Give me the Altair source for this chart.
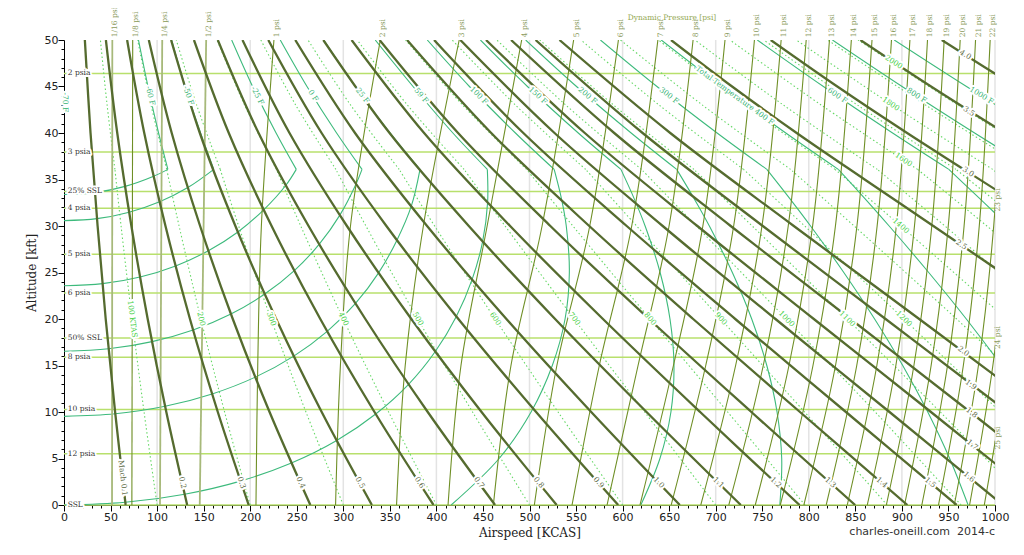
import altair as alt
import pandas as pd

# ---------------- values ----------------
# Mach lines: KCAS at altitudes of ALT_GRID (kft)
ALT_GRID = [0, 10, 20, 30, 40, 50]
MACH_NUMS = [0.1, 0.2, 0.3, 0.4, 0.5, 0.6, 0.7, 0.8, 0.9, 1.0,
             1.1, 1.2, 1.3, 1.4, 1.5, 1.6, 1.7, 1.8, 1.9, 2.0]
MACH_KCAS = [
    [66.2, 54.9, 44.8, 36.1, 28.5, 22.4],
    [132.3, 109.9, 89.9, 72.4, 57.2, 45.0],
    [198.4, 165.2, 135.3, 109.0, 86.2, 67.8],
    [264.6, 220.8, 181.3, 146.2, 115.7, 91.1],
    [330.7, 276.8, 227.9, 184.1, 145.9, 115.0],
    [396.9, 333.5, 275.3, 223.0, 177.0, 139.6],
    [463.0, 390.7, 323.7, 262.7, 209.0, 165.2],
    [529.2, 448.5, 373.1, 303.9, 242.2, 191.7],
    [595.3, 507.1, 423.6, 346.3, 276.7, 219.4],
    [661.5, 566.3, 475.2, 390.0, 312.6, 248.4],
    [727.0, 625.7, 527.5, 434.8, 349.7, 278.5],
    [790.1, 683.3, 578.9, 479.2, 386.8, 308.9],
    [849.8, 738.3, 628.4, 522.4, 423.3, 339.0],
    [905.9, 790.5, 675.8, 564.2, 458.9, 368.5],
    [958.8, 839.9, 721.0, 604.4, 493.4, 397.5],
    [1008.5, 886.7, 764.2, 643.1, 526.9, 425.7],
    [1055.6, 931.2, 805.4, 680.3, 559.4, 453.3],
    [1100.1, 973.4, 844.8, 716.1, 591.0, 480.2],
    [1142.4, 1013.7, 882.5, 750.6, 621.5, 506.5],
    [1182.6, 1052.1, 918.6, 783.9, 651.2, 532.2],
]
MACH_HIGH = [2.5, 3.0, 3.5, 4.0]
MACH_HIGH_ALT = [[20, 25, 30, 35, 40, 45, 50], [30, 36.09, 40, 45, 50],
                 [36.09, 40, 45, 50], [40, 45, 50]]
MACH_HIGH_KCAS = [[1079.6, 1007.1, 933.8, 860.0, 787.0, 717.6, 652.0],
                  [1062.0, 966.5, 905.6, 830.6, 759.1],
                  [1074.3, 1010.5, 931.3, 855.4],
                  [1104.3, 1022.0, 942.8]]

# Dynamic pressure lines [psi]: KCAS at Q_ALT
Q_NAMES = ["1/16", "1/8", "1/4", "1/2"] + [str(i) for i in range(1, 26)]
Q_ALT = [0, 15, 30, 50]
Q_KCAS = [
    [51.6, None, None, 51.9],
    [72.9, None, None, 73.8],
    [103.1, None, None, 105.5],
    [145.8, None, None, 152.7],
    [206.2, 208.1, 212.0, 225.5],
    [291.7, 296.9, 307.7, 339.8],
    [357.2, 366.5, 386.0, 424.5],
    [412.5, 426.4, 454.5, 491.6],
    [461.2, 480.1, 513.5, 547.4],
    [505.2, 529.4, 564.7, 595.5],
    [545.7, 575.0, 609.8, 637.9],
    [583.3, 616.6, 649.9, 675.7],
    [618.7, 654.6, 686.2, 710.0],
    [652.2, 689.3, 719.3, 741.6],
    [684.0, 721.4, 749.7, 770.3],
    [714.1, 751.1, 777.9, 797.2],
    [742.5, 778.7, 804.1, 822.2],
    [769.4, 804.5, 828.6, 845.7],
    [794.7, 828.7, 851.7, 867.9],
    [818.7, 851.5, 873.4, 888.8],
    [841.3, 873.1, 894.0, 908.6],
    [862.8, 893.5, 913.5, 927.5],
    [883.3, 912.9, 932.1, 945.4],
    [902.8, 931.4, 949.8, 962.6],
    [921.4, 949.0, 966.8, 979.1],
    [939.3, 966.0, 983.1, 994.8],
    [956.3, 982.2, 998.6, 1010.0],
    [972.7, 997.7, 1013.6, None],
    [988.5, 1012.7, 1028.1, None],
]
Q_RIGHT_ALT = [32.8, 18.0, 7.2]   # where 23, 24, 25 psi leave the right edge

# True airspeed lines [KTAS]: KCAS at TAS_ALT
TAS_VALUES = list(range(100, 2001, 100))
TAS_ALT = [0, 10, 20, 30, 36.09, 43, 50]
TAS_KCAS = [
    [100.0, 86.0, 73.1, 61.3, 54.7, 46.3, 39.1],
    [200.0, 172.5, 147.0, 123.6, 110.3, 93.5, 79.1],
    [300.0, 259.9, 222.4, 187.6, 167.8, 142.5, 120.6],
    [400.0, 348.7, 299.9, 254.3, 228.1, 194.0, 164.4],
    [500.0, 438.8, 380.0, 324.3, 292.0, 248.9, 211.4],
    [600.0, 530.7, 463.1, 398.1, 360.0, 307.9, 262.1],
    [699.9, 623.7, 548.0, 473.8, 429.7, 368.9, 315.0],
    [795.9, 712.9, 629.4, 546.6, 496.8, 428.3, 366.9],
    [884.2, 795.5, 705.4, 615.1, 560.3, 485.0, 417.0],
    [963.6, 871.3, 775.8, 679.2, 620.2, 539.0, 465.0],
    [1038.4, 941.2, 841.1, 739.2, 676.6, 590.3, 511.1],
    [1106.2, 1005.7, 902.0, 795.6, 729.9, 639.3, 555.3],
    [None, 1065.7, 958.8, 848.7, 780.4, 685.8, 597.7],
    [None, 1121.8, 1012.1, 898.8, 828.2, 730.3, 638.5],
    [None, None, 1062.3, 946.2, 873.6, 772.8, 677.6],
    [None, None, 1109.7, 991.3, 916.8, 813.4, 715.3],
    [None, None, None, 1034.0, 958.1, 852.3, 751.6],
    [None, None, None, 1074.9, 997.5, 889.7, 786.6],
    [None, None, None, None, 1035.3, 925.6, 820.3],
    [None, None, None, None, 1071.6, 960.1, 852.9],
]

# Total temperature curves: troposphere part and stratosphere part
TEMP_NAMES = ["-60 F", "-50 F", "-25 F", "0 F", "25 F", "59 F", "100 F", "150 F",
              "200 F", "300 F", "400 F", "600 F", "800 F", "1000 F"]
TEMP_TROPO_ALT = [
    [33.38, 33.59, 34.26, 35.35, 36.09],
    [30.58, 30.79, 31.48, 32.60, 34.13, 36.09],
    [23.57, 23.80, 24.52, 25.71, 27.34, 29.36, 31.74, 34.38, 36.09],
    [16.54, 16.80, 17.57, 18.82, 20.54, 22.68, 25.20, 28.05, 31.17, 34.52, 36.09],
    [9.53, 9.81, 10.61, 11.94, 13.75, 16.01, 18.67, 21.67, 24.96, 28.48, 32.19, 36.09],
    [0.0, 0.29, 1.16, 2.57, 4.51, 6.93, 9.78, 12.98, 16.51, 20.28, 24.24, 28.34, 32.52, 36.09],
    [0, 5, 10, 15, 20, 25, 30, 33, 36.09],
    [0, 5, 10, 15, 20, 25, 30, 33, 36.09],
    [0, 5, 10, 15, 20, 25, 30, 33, 36.09],
    [0, 5, 10, 15, 20, 25, 30, 33, 36.09],
    [10, 15, 20, 25, 30, 33, 36.09],
    [20, 30, 33, 36.09],
    [],
    [],
]
TEMP_TROPO_KCAS = [
    [0, 33.2, 65.6, 96.3, 111.6],
    [0, 35.4, 70.0, 102.7, 133.0, 160.9],
    [0, 41.4, 81.7, 119.9, 155.1, 186.8, 214.5, 238.3, 249.5],
    [0, 47.9, 94.6, 138.7, 179.3, 215.6, 247.4, 274.2, 296.3, 313.7, 320.1],
    [0, 55.1, 108.6, 159.1, 205.5, 246.8, 282.7, 313.1, 337.9, 357.6, 373.2, 382.4],
    [0, 65.8, 129.6, 189.5, 244.3, 292.9, 334.8, 370.1, 398.8, 421.4, 438.3, 449.7, 455.0, 454.7],
    [415.9, 467.4, 501.7, 524.5, 538.2, 542.8, 539.5, 534.2, 526.5],
    [619.6, 640.1, 651.9, 655.2, 650.9, 640.3, 624.2, 612.2, 598.2],
    [768.9, 770.9, 765.9, 754.9, 738.7, 717.9, 693.2, 676.5, 658.1],
    [971.1, 951.3, 927.8, 900.9, 870.7, 837.6, 801.9, 779.2, 754.9],
    [1042.5, 1007.0, 969.2, 928.8, 886.3, 859.8, 831.7],
    [1113.1, 1014.2, 983.1, 950.4],
    [],
    [],
]
TEMP_STRATO_ALT = [36.09, 40, 45, 50]
TEMP_STRATO_KCAS = [
    [111.6, 101.6, 90.2, 80.0],
    [160.9, 146.7, 130.2, 115.6],
    [249.5, 227.8, 202.6, 180.1],
    [320.1, 292.8, 261.0, 232.3],
    [382.4, 350.4, 312.9, 279.0],
    [454.7, 417.7, 374.9, 334.3],
    [526.5, 484.9, 435.5, 390.2],
    [598.2, 552.4, 497.8, 447.3],
    [658.1, 609.2, 550.5, 495.9],
    [754.9, 701.5, 636.9, 576.2],
    [831.7, 775.3, 706.5, 641.5],
    [950.4, 890.0, 815.7, 744.7],
    [1041.0, 978.1, 900.2, 825.4],
    [None, 1049.8, 969.4, 891.8],
]

# Static pressure reference lines
P_TEXT = ["2 psia", "3 psia", "25% SSL", "4 psia", "5 psia", "6 psia", "50% SSL",
          "8 psia", "10 psia", "12 psia", "SSL"]
P_ALT = [46.4, 37.96, 33.72, 31.90, 26.97, 22.79, 17.97, 15.89, 10.27, 5.50, 0.0]

GRID_KCAS = [100, 200, 300, 400, 500, 600, 700, 800, 900, 1000]

# Inline labels
MACH_LABEL_TEXT = ["Mach 0.1", "0.2", "0.3", "0.4", "0.5", "0.6", "0.7", "0.8", "0.9", "1.0",
                   "1.1", "1.2", "1.3", "1.4", "1.5", "1.6", "1.7", "1.8", "1.9", "2.0",
                   "2.5", "3.0", "3.5", "4.0"]
MACH_LABEL_KCAS = [62.9, 126.9, 190.4, 254.1, 317.8, 381.7, 445.6, 509.8, 574.1, 638.7,
                   702.7, 764.5, 823.0, 878.2, 930.3, 972.0, 975.4, 974.7, 974.0, 966.0,
                   963.7, 971.0, 972.0, 968.0]
MACH_LABEL_ALT = [2.9] + [2.4] * 14 + [3.0, 6.45, 9.9, 12.9, 16.5, 27.96, 35.8, 42.3, 48.4]
MACH_LABEL_ANGLE = [83.6, 77.4, 71.6, 66.3, 61.6, 57.6, 54.1, 51.1, 48.6, 46.4,
                    44.6, 43.1, 41.9, 40.9, 40.0, 39.4, 38.8, 37.8, 37.3, 36.7,
                    34.3, 32.5, 32.2, 32.2]

TAS_LABEL_TEXT = ["100 KTAS", "200", "300", "400", "500", "600", "700", "800", "900",
                  "1000", "1100", "1200", "1400", "1600", "1800", "2000"]
TAS_LABEL_KCAS = [73.1, 147.0, 222.4, 299.9, 380.0, 463.1, 548.0, 629.4, 705.4,
                  775.8, 841.1, 902.0, 898.8, 901.7, 888.0, 891.2]
TAS_LABEL_ALT = [20] * 12 + [30, 37.1, 43.1, 47.6]
TAS_LABEL_ANGLE = [83.0, 76.3, 70.1, 64.7, 60.2, 56.4, 53.1, 50.2, 47.9,
                   46.1, 44.7, 43.6, 41.2, 33.7, 33.5, 33.1]

TEMP_LABEL_TEXT = ["-70 F", "-60 F", "-50 F", "-25 F", "0 F", "25 F", "59 F", "100 F",
                   "150 F", "200 F", "300 F", "Total Temperature 400 F", "600 F",
                   "800 F", "1000 F"]
TEMP_LABEL_KCAS = [1.5, 92.5, 133.5, 207.6, 267.4, 320.4, 383.5, 445.4,
                   508.7, 562.2, 649.8, 720.3, 830.6, 915.8, 985.5]
TEMP_LABEL_ALT = [43.3] + [44.0] * 14
TEMP_LABEL_ANGLE = [90, 77.0, 71.7, 63.2, 57.5, 53.1, 49.4, 45.3,
                    42.4, 40.4, 37.9, 36.0, 33.9, 32.7, 31.9]

# ---------------- build tables ----------------
rows = []


def add_line(family, lid, alts, kcas):
    seq = 0
    for a, k in zip(alts, kcas):
        if k is None:
            continue
        rows.append({"family": family, "id": lid, "seq": seq, "alt": a, "kcas": k})
        seq += 1


for m, ks in zip(MACH_NUMS, MACH_KCAS):
    add_line("mach", f"M{m}", ALT_GRID, ks)
for m, a_list, ks in zip(MACH_HIGH, MACH_HIGH_ALT, MACH_HIGH_KCAS):
    add_line("mach", f"M{m}", a_list, ks)
for name, ks in zip(Q_NAMES, Q_KCAS):
    fam = "qfrac" if name in ("1/16", "1/4", "1/2") else "q"
    add_line(fam, f"q{name}", Q_ALT, ks)
for v, ks in zip(TAS_VALUES, TAS_KCAS):
    add_line("tas", f"T{v}a", TAS_ALT[:5], ks[:5])
    add_line("tas", f"T{v}b", TAS_ALT[4:], ks[4:])
for name, a_list, ks, ks2 in zip(TEMP_NAMES, TEMP_TROPO_ALT, TEMP_TROPO_KCAS, TEMP_STRATO_KCAS):
    add_line("temp", f"{name}a", a_list, ks)
    add_line("temp", f"{name}b", TEMP_STRATO_ALT, ks2)

lines = pd.DataFrame(rows)


def lab_df(texts, kcas, alts, angles):
    return pd.DataFrame({"label": texts, "kcas": kcas, "alt": alts, "angle": angles})


mach_lab = lab_df(MACH_LABEL_TEXT, MACH_LABEL_KCAS, MACH_LABEL_ALT, MACH_LABEL_ANGLE)
tas_lab = lab_df(TAS_LABEL_TEXT, TAS_LABEL_KCAS, TAS_LABEL_ALT, TAS_LABEL_ANGLE)
temp_lab = lab_df(TEMP_LABEL_TEXT, TEMP_LABEL_KCAS, TEMP_LABEL_ALT, TEMP_LABEL_ANGLE)
p_lab = lab_df(P_TEXT, [4.0] * len(P_TEXT), P_ALT, [0] * len(P_TEXT))
q_top = lab_df([f"{n} psi" for n in Q_NAMES[:26]],
               [ks[3] + 3.2 for ks in Q_KCAS[:26]], [50.3] * 26, [-90] * 26)
q_right = lab_df([f"{n} psi" for n in Q_NAMES[26:]], [1003.5] * 3, Q_RIGHT_ALT, [-90] * 3)
title_df = lab_df(["Dynamic Pressure [psi]"], [653], [52.37], [0])
foot_df = lab_df(["charles-oneill.com\u00a0 2014-c"], [1000], [-2.85], [0])

# ---------------- chart ----------------
xs = alt.Scale(domain=[0, 1000], nice=False, zero=False)
ys = alt.Scale(domain=[0, 50], nice=False, zero=False)
X_AXIS = alt.Axis(
    values=list(range(0, 1001, 10)), format="d",
    labelExpr="datum.value % 50 === 0 ? datum.label : ''",
    tickSize={"condition": {"test": "datum.value % 50 === 0", "value": 6}, "value": 3},
    title="Airspeed [KCAS]", titleFont="DejaVu Serif", titleFontSize=12,
    titleFontWeight="normal", titleColor="#222", titlePadding=5,
    labelFont="DejaVu Sans", labelFontSize=11, labelColor="#222", labelPadding=0,
    labelFlush=False, labelOverlap=False, grid=False,
    domainColor="#000", tickColor="#000")
Y_AXIS = alt.Axis(
    values=list(range(0, 51, 1)), format="d",
    labelExpr="datum.value % 5 === 0 ? datum.label : ''",
    tickSize={"condition": {"test": "datum.value % 5 === 0", "value": 6}, "value": 3},
    title="Altitude [kft]", titleFont="DejaVu Serif", titleFontSize=12,
    titleFontWeight="normal", titleColor="#222", titlePadding=6,
    labelFont="DejaVu Sans", labelFontSize=11, labelColor="#222", labelPadding=0,
    labelFlush=False, labelOverlap=False, grid=False,
    domainColor="#000", tickColor="#000")
X = alt.X("kcas:Q", scale=xs, axis=X_AXIS)
Y = alt.Y("alt:Q", scale=ys, axis=Y_AXIS)


def line_layer(fam, **mk):
    return alt.Chart(lines[lines.family == fam]).mark_line(
        clip=True, interpolate="catmull-rom", **mk
    ).encode(x=X, y=Y, detail="id:N", order="seq:Q")


def text_layers(df, color, size=7.5, halo=True, align="center", font="DejaVu Serif"):
    base = alt.Chart(df).encode(x=X, y=Y, text="label:N",
                                angle=alt.Angle("angle:Q", scale=None))
    out = []
    if halo:
        out.append(base.mark_text(font=font, fontSize=size, align=align, baseline="middle",
                                  color="white", stroke="white", strokeWidth=4,
                                  strokeJoin="round"))
    out.append(base.mark_text(font=font, fontSize=size, align=align, baseline="middle",
                              color=color))
    return out


grid = alt.Chart(pd.DataFrame({"kcas": GRID_KCAS})).mark_rule(
    color="#e3e3e3", strokeWidth=1.5).encode(x=X)
press = alt.Chart(pd.DataFrame({"alt": P_ALT})).mark_rule(
    color="#b8e06c", strokeWidth=1.5).encode(y=Y)

layers = [
    grid, press,
    line_layer("tas", color="#66d866", strokeWidth=1.1, strokeDash=[1.5, 2.5]),
    line_layer("temp", color="#3dba7c", strokeWidth=1.1),
    line_layer("qfrac", color="#a7b97a", strokeWidth=1.8),
    line_layer("q", color="#6f8f26", strokeWidth=1.1),
    line_layer("mach", color="#556b2f", strokeWidth=2.3),
]
layers += text_layers(p_lab, "#333333", size=7.5, align="left")
layers += text_layers(mach_lab, "#5d6a45", size=7.5)
layers += text_layers(tas_lab, "#45cf45", size=7.5)
layers += text_layers(temp_lab, "#35b373", size=7.5)
layers += text_layers(q_top, "#8a9a5c", size=7.5, halo=False, align="left")
layers += text_layers(q_right, "#8a9a5c", size=7.5, halo=False)
layers += text_layers(title_df, "#93a851", size=7.5, halo=False)
layers += text_layers(foot_df, "#333333", size=11, halo=False, align="right", font="DejaVu Sans")

chart = alt.layer(*layers).properties(
    width=931, height=465,
    padding={"left": 56, "top": 32, "right": 21, "bottom": 42},
    autosize=alt.AutoSizeParams(type="none"),
).configure_view(stroke=None)

chart.save("out.html", embed_options={"renderer": "svg", "actions": False})
